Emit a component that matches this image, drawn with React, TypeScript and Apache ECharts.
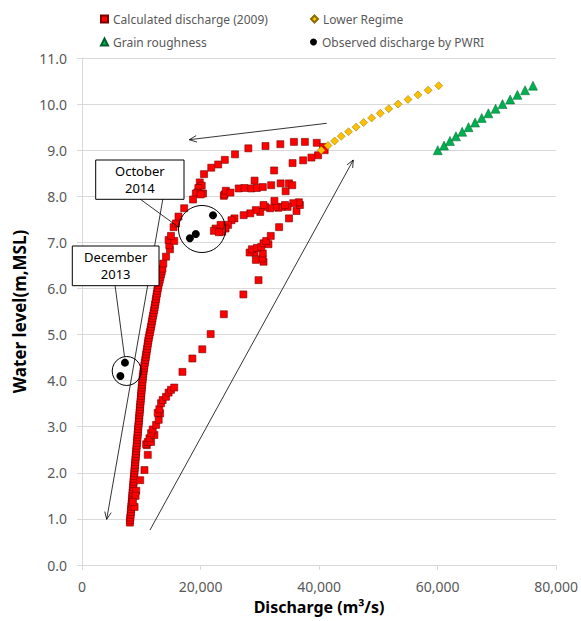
import React, { useEffect, useRef } from 'react';
import * as echarts from 'echarts';

// Calculated discharge (2009): discharge (m3/s) and water level (m, MSL)
const calcQ = [
  8080, 8120, 8150, 8200, 8260, 8290, 8330, 8380, 8420, 8460, 8500, 8530, 8580, 8630, 8660, 8700, 8740, 8790, 8830, 8860,
  8900, 8950, 8990, 9020, 9070, 9100, 9140, 9190, 9230, 9270, 9310, 9350, 9390, 9430, 9470, 9510, 9560, 9600, 9640, 9680,
  9720, 9760, 9800, 9840, 9880, 9930, 9970, 10010, 10050, 10090, 10140, 10180, 10230, 10270, 10330, 10400, 10460, 10530, 10600, 10680,
  10760, 10830, 10900, 10980, 11050, 11120, 11190, 11270, 11370, 11460, 11560, 11650, 11740, 11820, 11900, 11990, 12080, 12170, 12250, 12330,
  12410, 12480, 12560, 12640, 12720, 12800, 12900, 13010, 13120, 13230, 13340, 13450, 13560, 13720, 14180, 14840, 14730, 14610, 15560, 15010,
  15450, 15850, 16280, 17240,
  9820, 9150, 9040, 8870, 8590,
  10540, 11100, 10930, 10830, 11100, 11660, 11380, 12220, 11660, 11930, 12500, 12940, 13170, 12770, 13050, 13340, 13610, 14180, 14610, 15010, 15560,
  16950, 18630, 20300, 21710, 23930, 27230, 29790,
  29340, 30630, 30460, 30510, 29120, 28280, 28670, 29510, 30240, 30630, 31460, 31080, 31850, 33260, 34930, 36200, 36770, 36600, 35650, 34690,
  33690, 33140, 32680, 32470, 31750, 30910, 30070, 29340, 28400, 27280, 25720, 25220, 24650, 24220, 23650, 23380, 22540, 22260, 23100, 30630, 34260,
  23930, 24050, 24270, 25050, 26440, 27400, 28570, 29510, 30510, 31920, 29120, 33520, 34930, 35480, 34360,
  19870, 20200, 19630, 19460, 20420, 19200, 20030, 18740,
  20590, 21810, 22980, 24100, 25820, 28070, 30960, 33470, 35760, 37610, 39610, 40670, 40950,
  39830, 38710, 37320, 35530, 32420,
];
const calcH = [
  0.92, 0.97, 1.03, 1.09, 1.15, 1.21, 1.27, 1.33, 1.39, 1.45, 1.51, 1.57, 1.63, 1.69, 1.75, 1.81, 1.87, 1.93, 1.99, 2.05,
  2.11, 2.17, 2.23, 2.29, 2.35, 2.41, 2.47, 2.53, 2.59, 2.65, 2.71, 2.77, 2.83, 2.89, 2.95, 3.01, 3.07, 3.13, 3.19, 3.25,
  3.31, 3.37, 3.43, 3.49, 3.55, 3.61, 3.67, 3.73, 3.79, 3.85, 3.91, 3.97, 4.03, 4.09, 4.15, 4.21, 4.27, 4.33, 4.39, 4.45,
  4.51, 4.57, 4.63, 4.69, 4.75, 4.81, 4.87, 4.93, 4.99, 5.05, 5.11, 5.17, 5.23, 5.29, 5.35, 5.41, 5.47, 5.53, 5.59, 5.65,
  5.71, 5.77, 5.83, 5.89, 5.95, 6.01, 6.07, 6.13, 6.19, 6.25, 6.31, 6.37, 6.43, 6.54, 6.69, 6.85, 6.94, 7.05, 7.03, 7.14,
  7.33, 7.41, 7.56, 7.74,
  1.84, 1.61, 1.50, 1.26, 1.37,
  2.06, 2.39, 2.60, 2.62, 2.67, 2.67, 2.75, 2.82, 2.86, 2.94, 3.04, 3.15, 3.29, 3.30, 3.38, 3.51, 3.58, 3.65, 3.74, 3.80, 3.85,
  4.19, 4.48, 4.68, 5.01, 5.44, 5.87, 6.18,
  6.62, 6.58, 6.65, 6.76, 6.78, 6.78, 6.85, 6.88, 6.90, 6.98, 6.96, 7.03, 7.14, 7.33, 7.52, 7.68, 7.81, 7.87, 7.85, 7.77,
  7.77, 7.75, 7.77, 7.90, 7.74, 7.77, 7.66, 7.70, 7.63, 7.59, 7.52, 7.48, 7.38, 7.30, 7.23, 7.38, 7.30, 7.25, 7.22, 7.81, 7.81,
  8.01, 8.04, 8.12, 8.08, 8.17, 8.18, 8.17, 8.18, 8.20, 8.24, 8.34, 8.28, 8.28, 8.24, 8.11,
  8.30, 8.23, 8.18, 8.08, 8.06, 8.06, 8.04, 7.93,
  8.48, 8.62, 8.69, 8.79, 8.91, 9.04, 9.09, 9.13, 9.18, 9.18, 9.16, 9.07, 9.00,
  8.89, 8.84, 8.78, 8.72, 8.56,
];

// Lower Regime
const regimeQ = [40380, 41510, 42630, 43730, 44970, 46240, 47530, 48870, 50330, 51770, 53340, 55010, 56690, 58410, 60200];
const regimeH = [9.0, 9.1, 9.2, 9.3, 9.4, 9.5, 9.6, 9.7, 9.8, 9.9, 10.0, 10.1, 10.2, 10.3, 10.4];

// Grain roughness
const grainQ = [60030, 61090, 62090, 63100, 64150, 65220, 66330, 67450, 68570, 69790, 70960, 72250, 73470, 74760, 76100];
const grainH = [9.0, 9.1, 9.2, 9.3, 9.4, 9.5, 9.6, 9.7, 9.8, 9.9, 10.0, 10.1, 10.2, 10.3, 10.4];

// Observed discharge by PWRI
const obsQ = [7250, 6480, 22100, 19200, 18200];
const obsH = [4.39, 4.10, 7.59, 7.18, 7.09];

const seriesNames = ['Calculated discharge (2009)', 'Lower Regime', 'Grain roughness', 'Observed discharge by PWRI'];
const calloutTexts = ['October\n2014', 'December\n2013'];

const FONT = '"Noto Sans", sans-serif';

function zip(a: number[], b: number[]) {
  return a.map((v, i) => [v, b[i]]);
}

function arrowHead(x1: number, y1: number, x2: number, y2: number, len = 8, ang = 0.42) {
  const a = Math.atan2(y2 - y1, x2 - x1);
  return [
    [x2 - len * Math.cos(a - ang), y2 - len * Math.sin(a - ang)],
    [x2, y2],
    [x2 - len * Math.cos(a + ang), y2 - len * Math.sin(a + ang)],
  ];
}

function arrow(x1: number, y1: number, x2: number, y2: number) {
  return [
    { type: 'line', z: 50, shape: { x1, y1, x2, y2 }, style: { stroke: '#000', lineWidth: 0.8 } },
    { type: 'polyline', z: 50, shape: { points: arrowHead(x1, y1, x2, y2) }, style: { stroke: '#000', lineWidth: 0.8, fill: null } },
  ];
}

function box(x: number, y: number, w: number, h: number, text: string) {
  return [
    { type: 'rect', z: 100, shape: { x, y, width: w, height: h }, style: { fill: '#fff', stroke: '#000', lineWidth: 1 } },
    {
      type: 'text', z: 101, x: x + w / 2, y: y + h / 2,
      style: { text, align: 'center', verticalAlign: 'middle', fontFamily: FONT, fontSize: 13, lineHeight: 17, fill: '#000' },
    },
  ];
}

export default function App() {
  const ref = useRef<HTMLDivElement>(null);
  useEffect(() => {
    if (!ref.current) return;
    const chart = echarts.init(ref.current, undefined, { renderer: 'svg' });
    const legendBase = {
      itemWidth: 7, itemHeight: 7, itemGap: 4, padding: 0,
      textStyle: { fontFamily: FONT, fontSize: 12, color: '#595959' },
      selectedMode: false,
    };
    chart.setOption({
      animation: false,
      backgroundColor: '#fff',
      grid: { left: 82, right: 21, top: 58, bottom: 56, containLabel: false },
      legend: [
        { ...legendBase, left: 100, top: 13, data: [{ name: seriesNames[0], icon: 'rect' }] },
        { ...legendBase, left: 310, top: 13, data: [{ name: seriesNames[1], icon: 'diamond' }] },
        { ...legendBase, left: 100, top: 36, data: [{ name: seriesNames[2], icon: 'triangle' }] },
        { ...legendBase, left: 310, top: 36, data: [{ name: seriesNames[3], icon: 'circle' }] },
      ],
      xAxis: {
        type: 'value', min: 0, max: 80000, interval: 20000,
        name: 'Discharge (m³/s)', nameLocation: 'middle', nameGap: 34,
        nameTextStyle: { fontFamily: FONT, fontSize: 16, fontWeight: 'bold', color: '#000' },
        axisLine: { show: true, lineStyle: { color: '#d9d9d9', width: 1 } },
        axisTick: { show: true, length: 5, lineStyle: { color: '#d9d9d9' } },
        axisLabel: {
          fontFamily: FONT, fontSize: 14, color: '#595959', margin: 14,
          formatter: (v: number) => v.toLocaleString('en-US'),
        },
        splitLine: { show: false },
      },
      yAxis: {
        type: 'value', min: 0, max: 11, interval: 1,
        name: 'Water level(m,MSL)', nameLocation: 'middle', nameGap: 41,
        nameTextStyle: { fontFamily: FONT, fontSize: 17, fontWeight: 'bold', color: '#000' },
        axisLine: { show: true, lineStyle: { color: '#d9d9d9', width: 1 } },
        axisTick: { show: true, length: 5, lineStyle: { color: '#d9d9d9' } },
        axisLabel: {
          fontFamily: FONT, fontSize: 14, color: '#595959', margin: 15,
          formatter: (v: number) => v.toFixed(1),
        },
        splitLine: { show: true, lineStyle: { color: '#d9d9d9', width: 1 } },
      },
      series: [
        {
          name: seriesNames[0], type: 'scatter', symbol: 'rect', symbolSize: 7,
          itemStyle: { color: '#FF0000', borderColor: '#7a0000', borderWidth: 0.6, opacity: 1 },
          data: zip(calcQ, calcH), z: 2,
        },
        {
          name: seriesNames[1], type: 'scatter', symbol: 'diamond', symbolSize: 8,
          itemStyle: { color: '#FFC000', borderColor: '#8a6d00', borderWidth: 0.5, opacity: 1 },
          data: zip(regimeQ, regimeH), z: 3,
        },
        {
          name: seriesNames[2], type: 'scatter', symbol: 'triangle', symbolSize: 9,
          itemStyle: { color: '#00B050', borderColor: '#00602c', borderWidth: 0.5, opacity: 1 },
          data: zip(grainQ, grainH), z: 3,
        },
        {
          name: seriesNames[3], type: 'scatter', symbol: 'circle', symbolSize: 8,
          itemStyle: { color: '#000', opacity: 1 },
          data: zip(obsQ, obsH), z: 4,
        },
      ],
      graphic: [
        ...arrow(326.7, 123.3, 189.3, 139.7),
        ...arrow(150, 530, 353.3, 160),
        ...arrow(166, 181, 106.7, 519.3),
        { type: 'line', z: 50, shape: { x1: 140, y1: 199, x2: 179, y2: 227.5 }, style: { stroke: '#000', lineWidth: 0.8 } },
        { type: 'line', z: 50, shape: { x1: 115, y1: 285, x2: 124.5, y2: 356.7 }, style: { stroke: '#000', lineWidth: 0.8 } },
        { type: 'circle', z: 50, shape: { cx: 202, cy: 229, r: 23.5 }, style: { stroke: '#000', lineWidth: 1, fill: null } },
        { type: 'circle', z: 50, shape: { cx: 126.7, cy: 371, r: 14.5 }, style: { stroke: '#000', lineWidth: 1, fill: null } },
        ...box(95.7, 160, 88.3, 39.3, calloutTexts[0]),
        ...box(72.3, 246, 86.7, 39.7, calloutTexts[1]),
      ],
    });
    return () => chart.dispose();
  }, []);
  return <div ref={ref} style={{ position: 'fixed', left: 0, top: 0, width: 581, height: 621 }} />;
}
